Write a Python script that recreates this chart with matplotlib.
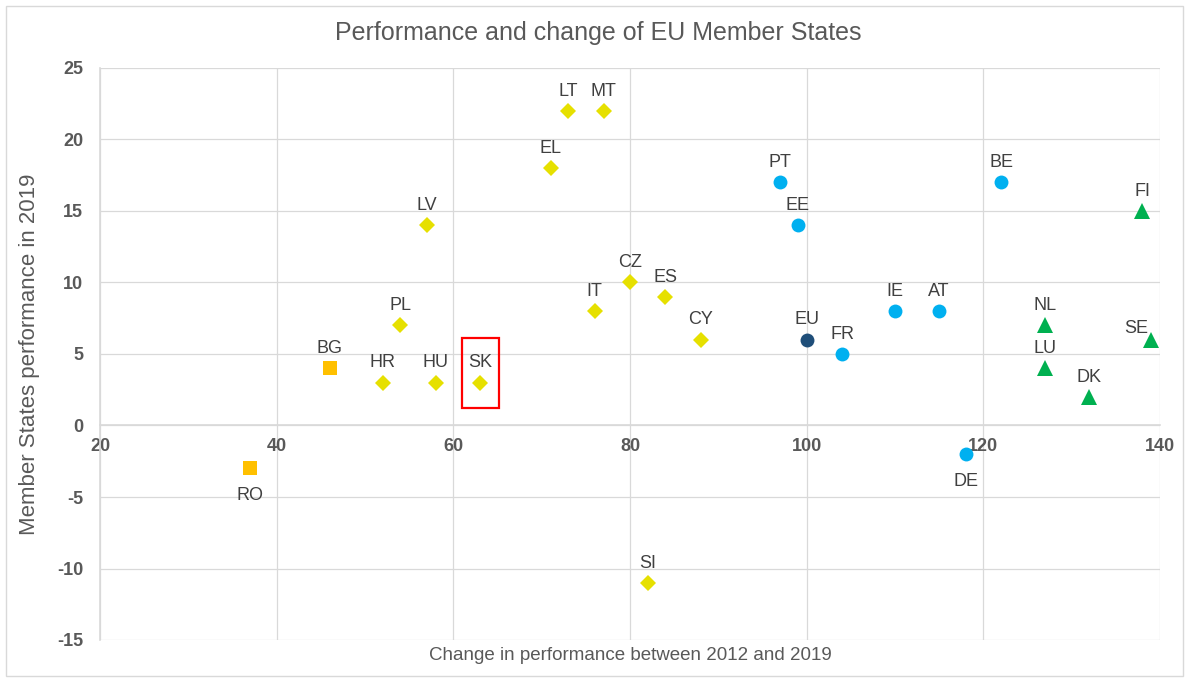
import matplotlib.pyplot as plt
from matplotlib.patches import Rectangle

plt.rcParams['font.family'] = ['Liberation Sans', 'DejaVu Sans']
plt.rcParams['axes.unicode_minus'] = False

# data (change 2012-2019, performance 2019)
yellow_names = ['HR', 'HU', 'SK', 'PL', 'LV', 'EL', 'LT', 'MT', 'IT', 'CZ', 'ES', 'CY', 'SI']
yellow_x = [52, 58, 63, 54, 57, 71, 73, 77, 76, 80, 84, 88, 82]
yellow_y = [3, 3, 3, 7, 14, 18, 22, 22, 8, 10, 9, 6, -11]

orange_names = ['BG', 'RO']
orange_x = [46, 37]
orange_y = [4, -3]

blue_names = ['PT', 'EE', 'FR', 'IE', 'AT', 'BE', 'DE']
blue_x = [97, 99, 104, 110, 115, 122, 118]
blue_y = [17, 14, 5, 8, 8, 17, -2]

eu_names = ['EU']
eu_x = [100]
eu_y = [6]

green_names = ['NL', 'LU', 'DK', 'FI', 'SE']
green_x = [127, 127, 132, 138, 139]
green_y = [7, 4, 2, 15, 6]

below = ['RO', 'DE']

grey = '#595959'
gridc = '#D9D9D9'

fig = plt.figure(figsize=(11.89, 6.82), dpi=100)
ax = fig.add_axes([100 / 1189, 42 / 682, 1060 / 1189, 572 / 682])

groups = [
    (yellow_names, yellow_x, yellow_y, 'D', 8, '#E6E000'),
    (orange_names, orange_x, orange_y, 's', 10, '#FFC000'),
    (blue_names, blue_x, blue_y, 'o', 10, '#00B0F0'),
    (eu_names, eu_x, eu_y, 'o', 10, '#1F4E79'),
    (green_names, green_x, green_y, '^', 11, '#00B050'),
]

for names, xs, ys, mk, ms, col in groups:
    ax.plot(xs, ys, linestyle='none', marker=mk, markersize=ms,
            color=col, markeredgewidth=0, zorder=3)
    for n, x, y in zip(names, xs, ys):
        if n in below:
            off, ha = (0, -23), 'center'
        elif n == 'SE':
            off, ha = (-2, 5), 'right'
        else:
            off, ha = (0, 11), 'center'
        ax.annotate(n, (x, y), xytext=off, textcoords='offset points',
                    ha=ha, va='baseline', fontsize=13, color='#404040')

# box around Slovakia
ax.add_patch(Rectangle((61.0, 1.2), 4.2, 4.9, fill=False,
                       edgecolor='#FF0000', linewidth=1.6, zorder=4))

ax.set_xlim(20, 140)
ax.set_ylim(-15, 25)
ax.set_xticks(range(20, 141, 20))
ax.set_yticks(range(-15, 26, 5))
ax.grid(True, color=gridc, linewidth=0.9, zorder=0)
ax.set_axisbelow(True)

for s in ['top', 'right']:
    ax.spines[s].set_visible(False)
ax.spines['bottom'].set_position(('data', 0))
ax.spines['bottom'].set_color(gridc)
ax.spines['left'].set_color(gridc)
ax.spines['bottom'].set_linewidth(1.2)
ax.spines['left'].set_linewidth(1.2)

ax.tick_params(length=0, labelsize=13, labelcolor=grey)
ax.tick_params(axis='x', pad=9)
ax.tick_params(axis='y', pad=12)
for lab in ax.get_xticklabels() + ax.get_yticklabels():
    lab.set_fontweight('bold')

ax.set_ylabel('Member States performance in 2019', fontsize=16, color=grey)
ax.yaxis.set_label_coords(-0.057, 0.5)
ax.text(0.5, -0.012, 'Change in performance between 2012 and 2019',
        transform=ax.transAxes, ha='center', va='top', fontsize=13.5, color=grey)

fig.text(598 / 1189, 1 - 33 / 682, 'Performance and change of EU Member States',
         ha='center', va='center', fontsize=18, color=grey)

fig.patches.append(Rectangle((6 / 1189, 6 / 682), 1177 / 1189, 670 / 682,
                             transform=fig.transFigure, fill=False,
                             edgecolor=gridc, linewidth=1))

fig.savefig('out.png', dpi=100)
